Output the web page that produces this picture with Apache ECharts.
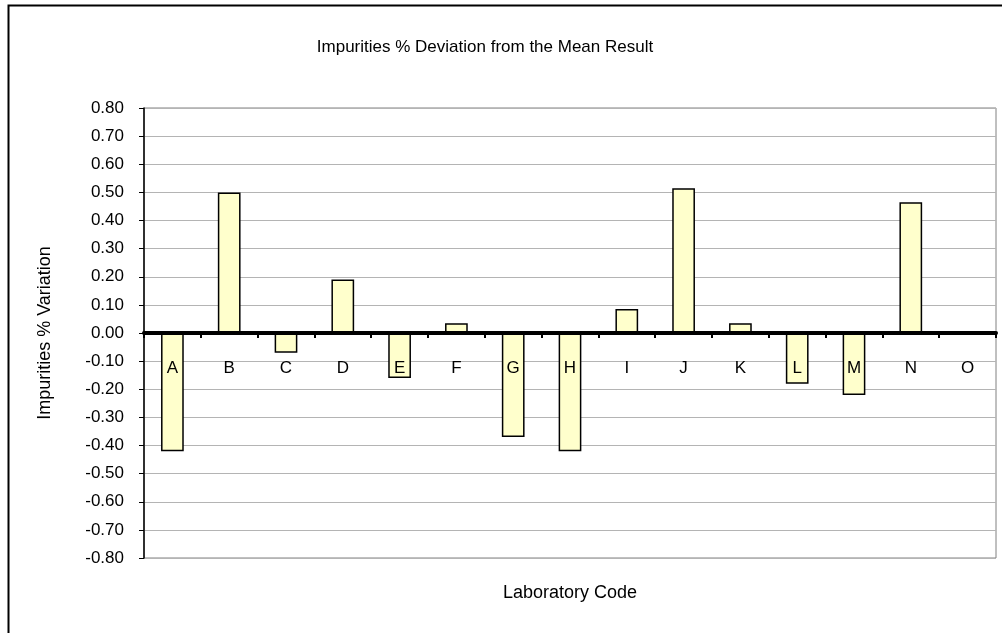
<!DOCTYPE html>
<html>
<head>
<meta charset="utf-8">
<script src="https://cdn.jsdelivr.net/npm/echarts@6/dist/echarts.min.js"></script>
<style>
html,body{margin:0;padding:0;background:#fff;}
#chart{width:1002px;height:633px;}
</style>
</head>
<body>
<div id="chart"></div>
<script>
var categories = ['A','B','C','D','E','F','G','H','I','J','K','L','M','N','O'];
var deviations = [-0.42, 0.50, -0.07, 0.19, -0.16, 0.035, -0.37, -0.42, 0.085, 0.515, 0.035, -0.18, -0.22, 0.465, 0];
var titleText = 'Impurities % Deviation from the Mean Result';
var xName = 'Laboratory Code';
var yName = 'Impurities % Variation';

var FONT = "'Liberation Sans', Arial, sans-serif";
var chart = echarts.init(document.getElementById('chart'), null, {renderer: 'canvas'});
chart.setOption({
  animation: false,
  backgroundColor: '#ffffff',
  graphic: [{
    type: 'rect', left: 6, top: 3, z: 100, silent: true,
    shape: {width: 1010, height: 650},
    style: {fill: 'none', stroke: '#000', lineWidth: 2}
  }],
  title: {
    text: titleText,
    left: 480, top: 34, textAlign: 'center',
    textStyle: {fontFamily: FONT, fontSize: 17, fontWeight: 'normal', color: '#000'}
  },
  grid: {
    left: 144, top: 108, right: 6, bottom: 75,
    containLabel: false,
    outerBoundsMode: 'none',
    show: true, borderColor: '#808080', borderWidth: 1, backgroundColor: '#fff'
  },
  xAxis: {
    type: 'category',
    data: categories,
    z: 10,
    name: xName,
    nameLocation: 'middle',
    nameGap: 26,
    nameTextStyle: {fontFamily: FONT, fontSize: 18, color: '#000'},
    axisLine: {onZero: true, lineStyle: {color: '#000', width: 4}},
    axisTick: {show: true, alignWithLabel: false, length: 5, lineStyle: {color: '#000', width: 2}},
    axisLabel: {fontFamily: FONT, fontSize: 17, color: '#000', margin: -198},
    splitLine: {show: false}
  },
  yAxis: {
    type: 'value',
    min: -0.8, max: 0.8, interval: 0.1,
    name: yName,
    nameLocation: 'middle',
    nameGap: 90,
    nameTextStyle: {fontFamily: FONT, fontSize: 18, color: '#000'},
    axisLine: {show: true, lineStyle: {color: '#000', width: 1.5}},
    axisTick: {show: true, length: 5, lineStyle: {color: '#000', width: 1}},
    axisLabel: {
      fontFamily: FONT, fontSize: 17, color: '#000', margin: 20,
      formatter: function (v) { return v.toFixed(2); }
    },
    splitLine: {show: true, lineStyle: {color: '#b4b4b4', width: 1}}
  },
  series: [{
    type: 'bar',
    data: deviations,
    barWidth: '40%',
    z: 2,
    itemStyle: {color: '#FFFFCC', borderColor: '#000', borderWidth: 1.5}
  }]
});
</script>
</body>
</html>
